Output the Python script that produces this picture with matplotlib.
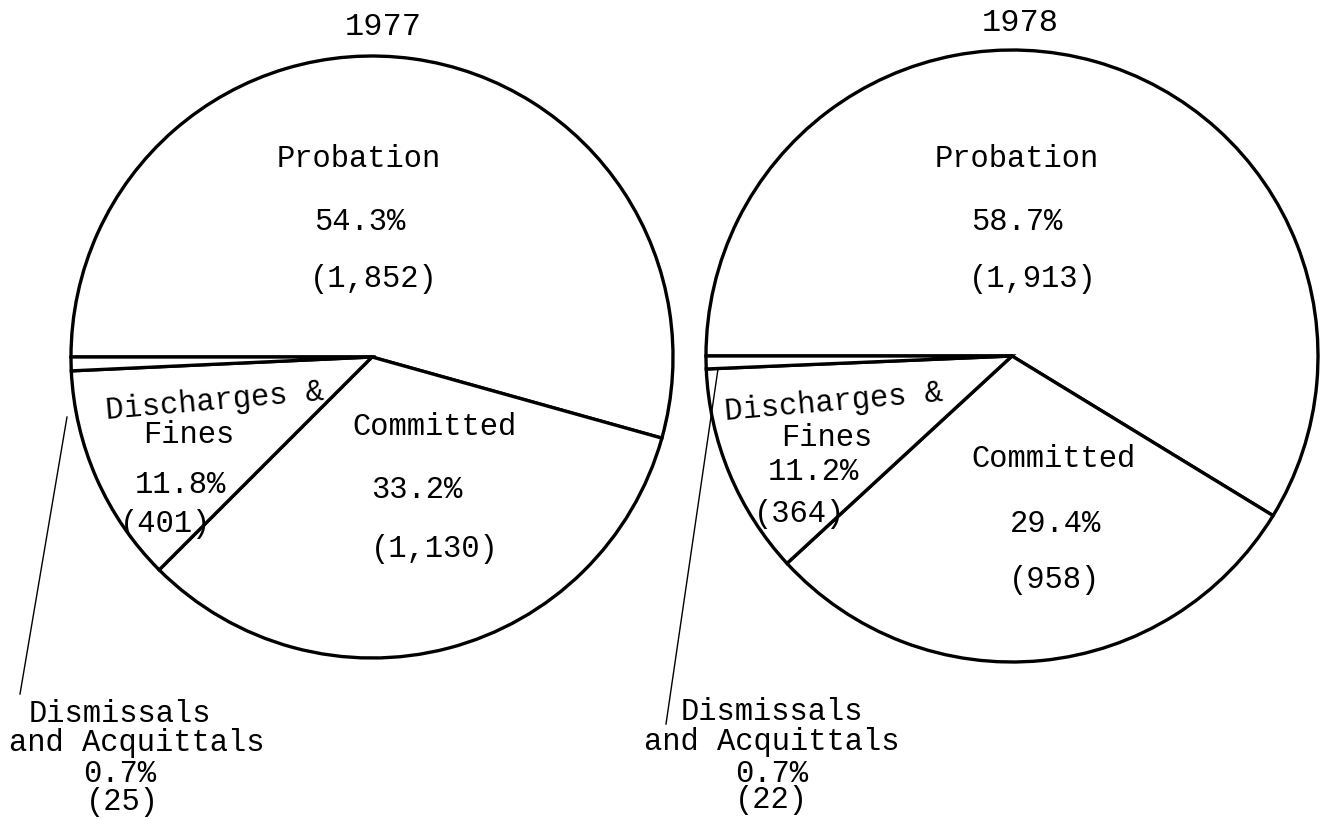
import matplotlib.pyplot as plt

plt.rcParams['font.family'] = ['Liberation Mono', 'DejaVu Sans Mono']

H = 820  # figure height in px, text positions below are given from the top

years = ['1977', '1978']
categories = ['Probation', 'Committed', 'Discharges & Fines', 'Dismissals and Acquittals']
counts_1977 = [1852, 1130, 401, 25]
counts_1978 = [1913, 958, 364, 22]
pct_1977 = ['54.3%', '33.2%', '11.8%', '0.7%']
pct_1978 = ['58.7%', '29.4%', '11.2%', '0.7%']
num_1977 = ['(1,852)', '(1,130)', '(401)', '(25)']
num_1978 = ['(1,913)', '(958)', '(364)', '(22)']

fig = plt.figure(figsize=(13.26, 8.2), dpi=100)
ax = fig.add_axes([0, 0, 1, 1])

pies = [
    dict(counts=counts_1977, center=(372, H - 358), radius=301),
    dict(counts=counts_1978, center=(1012, H - 357), radius=306),
]
for p in pies:
    ax.pie(p['counts'], center=p['center'], radius=p['radius'], startangle=180,
           counterclock=False, colors=['white'] * 4,
           wedgeprops=dict(edgecolor='black', linewidth=2.4))

ax.set_xlim(0, 1326)
ax.set_ylim(0, H)
ax.set_aspect('equal')
ax.axis('off')

fs = 22


def txt(x, y, s, size=fs, rot=0):
    # y is the baseline, measured from the top
    ax.text(x, H - y, s, ha='center', va='baseline', fontsize=size,
            color='black', rotation=rot, rotation_mode='anchor')


# titles
txt(383, 35, years[0], 23)
txt(1020, 31, years[1], 23)

# 1977 labels
txt(359, 167, 'Probation')
txt(360, 230, pct_1977[0])
txt(374, 287, num_1977[0])
txt(434, 435, 'Committed')
txt(417, 498, pct_1977[1])
txt(435, 557, num_1977[1])
txt(215, 409, 'Discharges &', rot=5)
txt(189, 443, 'Fines')
txt(180, 493, pct_1977[2])
txt(165, 532, num_1977[2])
txt(120, 722, 'Dismissals')
txt(137, 751, 'and Acquittals')
txt(120, 782, pct_1977[3])
txt(122, 810, num_1977[3])
ax.plot([67, 20], [H - 418, H - 695], color='black', lw=1)

# 1978 labels
txt(1017, 167, 'Probation')
txt(1017, 230, pct_1978[0])
txt(1033, 287, num_1978[0])
txt(1054, 467, 'Committed')
txt(1056, 532, pct_1978[1])
txt(1055, 588, num_1978[1])
txt(834, 410, 'Discharges &', rot=5)
txt(827, 446, 'Fines')
txt(813, 480, pct_1978[2])
txt(800, 522, num_1978[2])
txt(772, 720, 'Dismissals')
txt(772, 750, 'and Acquittals')
txt(772, 782, pct_1978[3])
txt(771, 808, num_1978[3])
ax.plot([718, 666], [H - 370, H - 725], color='black', lw=1)

fig.savefig('out.png', dpi=100, facecolor='white')
